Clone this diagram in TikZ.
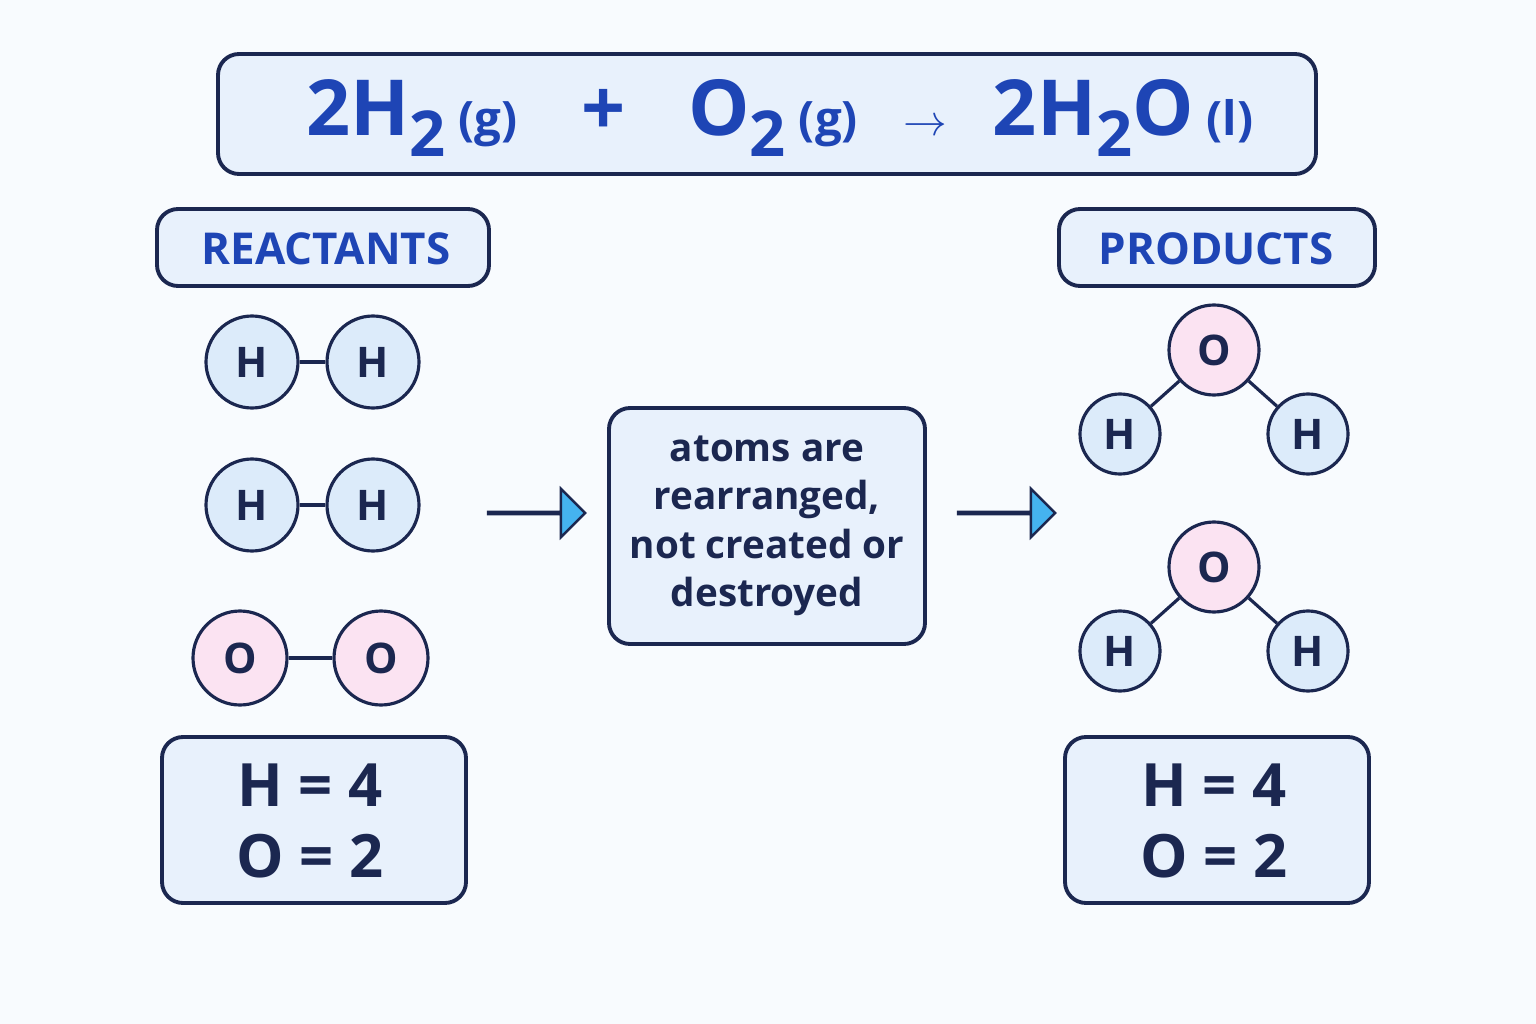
\documentclass[tikz,border=0pt]{standalone}
\usepackage{fontspec}
\setmainfont{Open Sans}
\usetikzlibrary{shapes.arrows}
\definecolor{navy}{HTML}{1B2750}
\definecolor{eqblue}{HTML}{1E45B5}
\definecolor{boxfill}{HTML}{E8F1FC}
\definecolor{hfill}{HTML}{DCEBFA}
\definecolor{ofill}{HTML}{FBE3F2}
\definecolor{arrowfill}{HTML}{45B3F0}
\definecolor{bgcol}{HTML}{F8FBFE}
\newcommand{\subtwo}{\raisebox{-12pt}{\fontsize{36}{36}\selectfont 2}}
\newcommand{\phase}[1]{\,{\fontsize{27}{27}\selectfont\bfseries(#1)}}
\tikzset{
  panel/.style={draw=navy, line width=2.2pt, fill=boxfill, rounded corners=12pt},
  atom/.style={circle, draw=navy, line width=1.8pt, text=navy, inner sep=0pt, font=\fontsize{24}{24}\selectfont\bfseries},
  hatom/.style={atom, fill=hfill},
  oatom/.style={atom, fill=ofill},
  bond/.style={draw=navy, line width=1.8pt},
  blockarrow/.style={single arrow, draw=navy, line width=1.4pt, fill=arrowfill, minimum width=41*0.02cm, single arrow head extend=23*0.02cm, minimum height=97*0.02cm, inner sep=0pt, single arrow tip angle=90},
  tag/.style={text=eqblue, font=\fontsize{25}{25}\selectfont\bfseries}
}
\begin{document}
\begin{tikzpicture}[x=0.02cm,y=-0.02cm]
  \fill[bgcol] (0,0) rectangle (1536,1024);
  \useasboundingbox (0,0) rectangle (1536,1024);

  % equation
  \draw[panel] (218,54) rectangle (1316,174);
  \node (equation) at (780,118) [text=eqblue, font=\fontsize{44}{44}\selectfont\bfseries]
    {2H\subtwo\phase{g}\hspace{36pt}+\hspace{36pt}O\subtwo\phase{g}\hspace{26pt}{\fontsize{40}{40}\selectfont$\rightarrow$}\hspace{26pt}2H\subtwo O\phase{l}};

  % headings
  \draw[panel] (157,209) rectangle (489,286);
  \node (reactants) at (326,249) [tag] {REACTANTS};
  \draw[panel] (1059,209) rectangle (1375,286);
  \node (products) at (1216,249) [tag] {PRODUCTS};

  % reactant molecules
  \node (h1) at (252,362) [hatom, minimum size=92*0.02cm] {H};
  \node (h2) at (373,362) [hatom, minimum size=92*0.02cm] {H};
  \node (h3) at (252,505) [hatom, minimum size=92*0.02cm] {H};
  \node (h4) at (373,505) [hatom, minimum size=92*0.02cm] {H};
  \node (o1) at (240,658) [oatom, minimum size=94*0.02cm] {O};
  \node (o2) at (381,658) [oatom, minimum size=94*0.02cm] {O};
  \draw[bond] (h1) -- (h2);
  \draw[bond] (h3) -- (h4);
  \draw[bond] (o1) -- (o2);

  % middle
  \node (arrowa) at (536,513) [blockarrow] {};
  \draw[panel] (609,408) rectangle (925,644);
  \node (note) at (767,526) [align=center, text=navy, font=\fontsize{22}{27.5}\selectfont\bfseries]
    {atoms are\\rearranged,\\not created or\\destroyed};
  \node (arrowb) at (1006,513) [blockarrow] {};

  % product molecules
  \node (wo1) at (1214,350) [oatom, minimum size=90*0.02cm] {O};
  \node (wh1) at (1120,434) [hatom, minimum size=80*0.02cm] {H};
  \node (wh2) at (1308,434) [hatom, minimum size=80*0.02cm] {H};
  \node (wo2) at (1214,567) [oatom, minimum size=90*0.02cm] {O};
  \node (wh3) at (1120,651) [hatom, minimum size=80*0.02cm] {H};
  \node (wh4) at (1308,651) [hatom, minimum size=80*0.02cm] {H};
  \draw[bond] (wo1) -- (wh1);
  \draw[bond] (wo1) -- (wh2);
  \draw[bond] (wo2) -- (wh3);
  \draw[bond] (wo2) -- (wh4);

  % counts
  \draw[panel] (162,737) rectangle (466,903);
  \node (countl) at (310,821) [align=center, text=navy, font=\fontsize{34}{40}\selectfont\bfseries] {H = 4\\O = 2};
  \draw[panel] (1065,737) rectangle (1369,903);
  \node (countr) at (1214,821) [align=center, text=navy, font=\fontsize{34}{40}\selectfont\bfseries] {H = 4\\O = 2};
\end{tikzpicture}
\end{document}
